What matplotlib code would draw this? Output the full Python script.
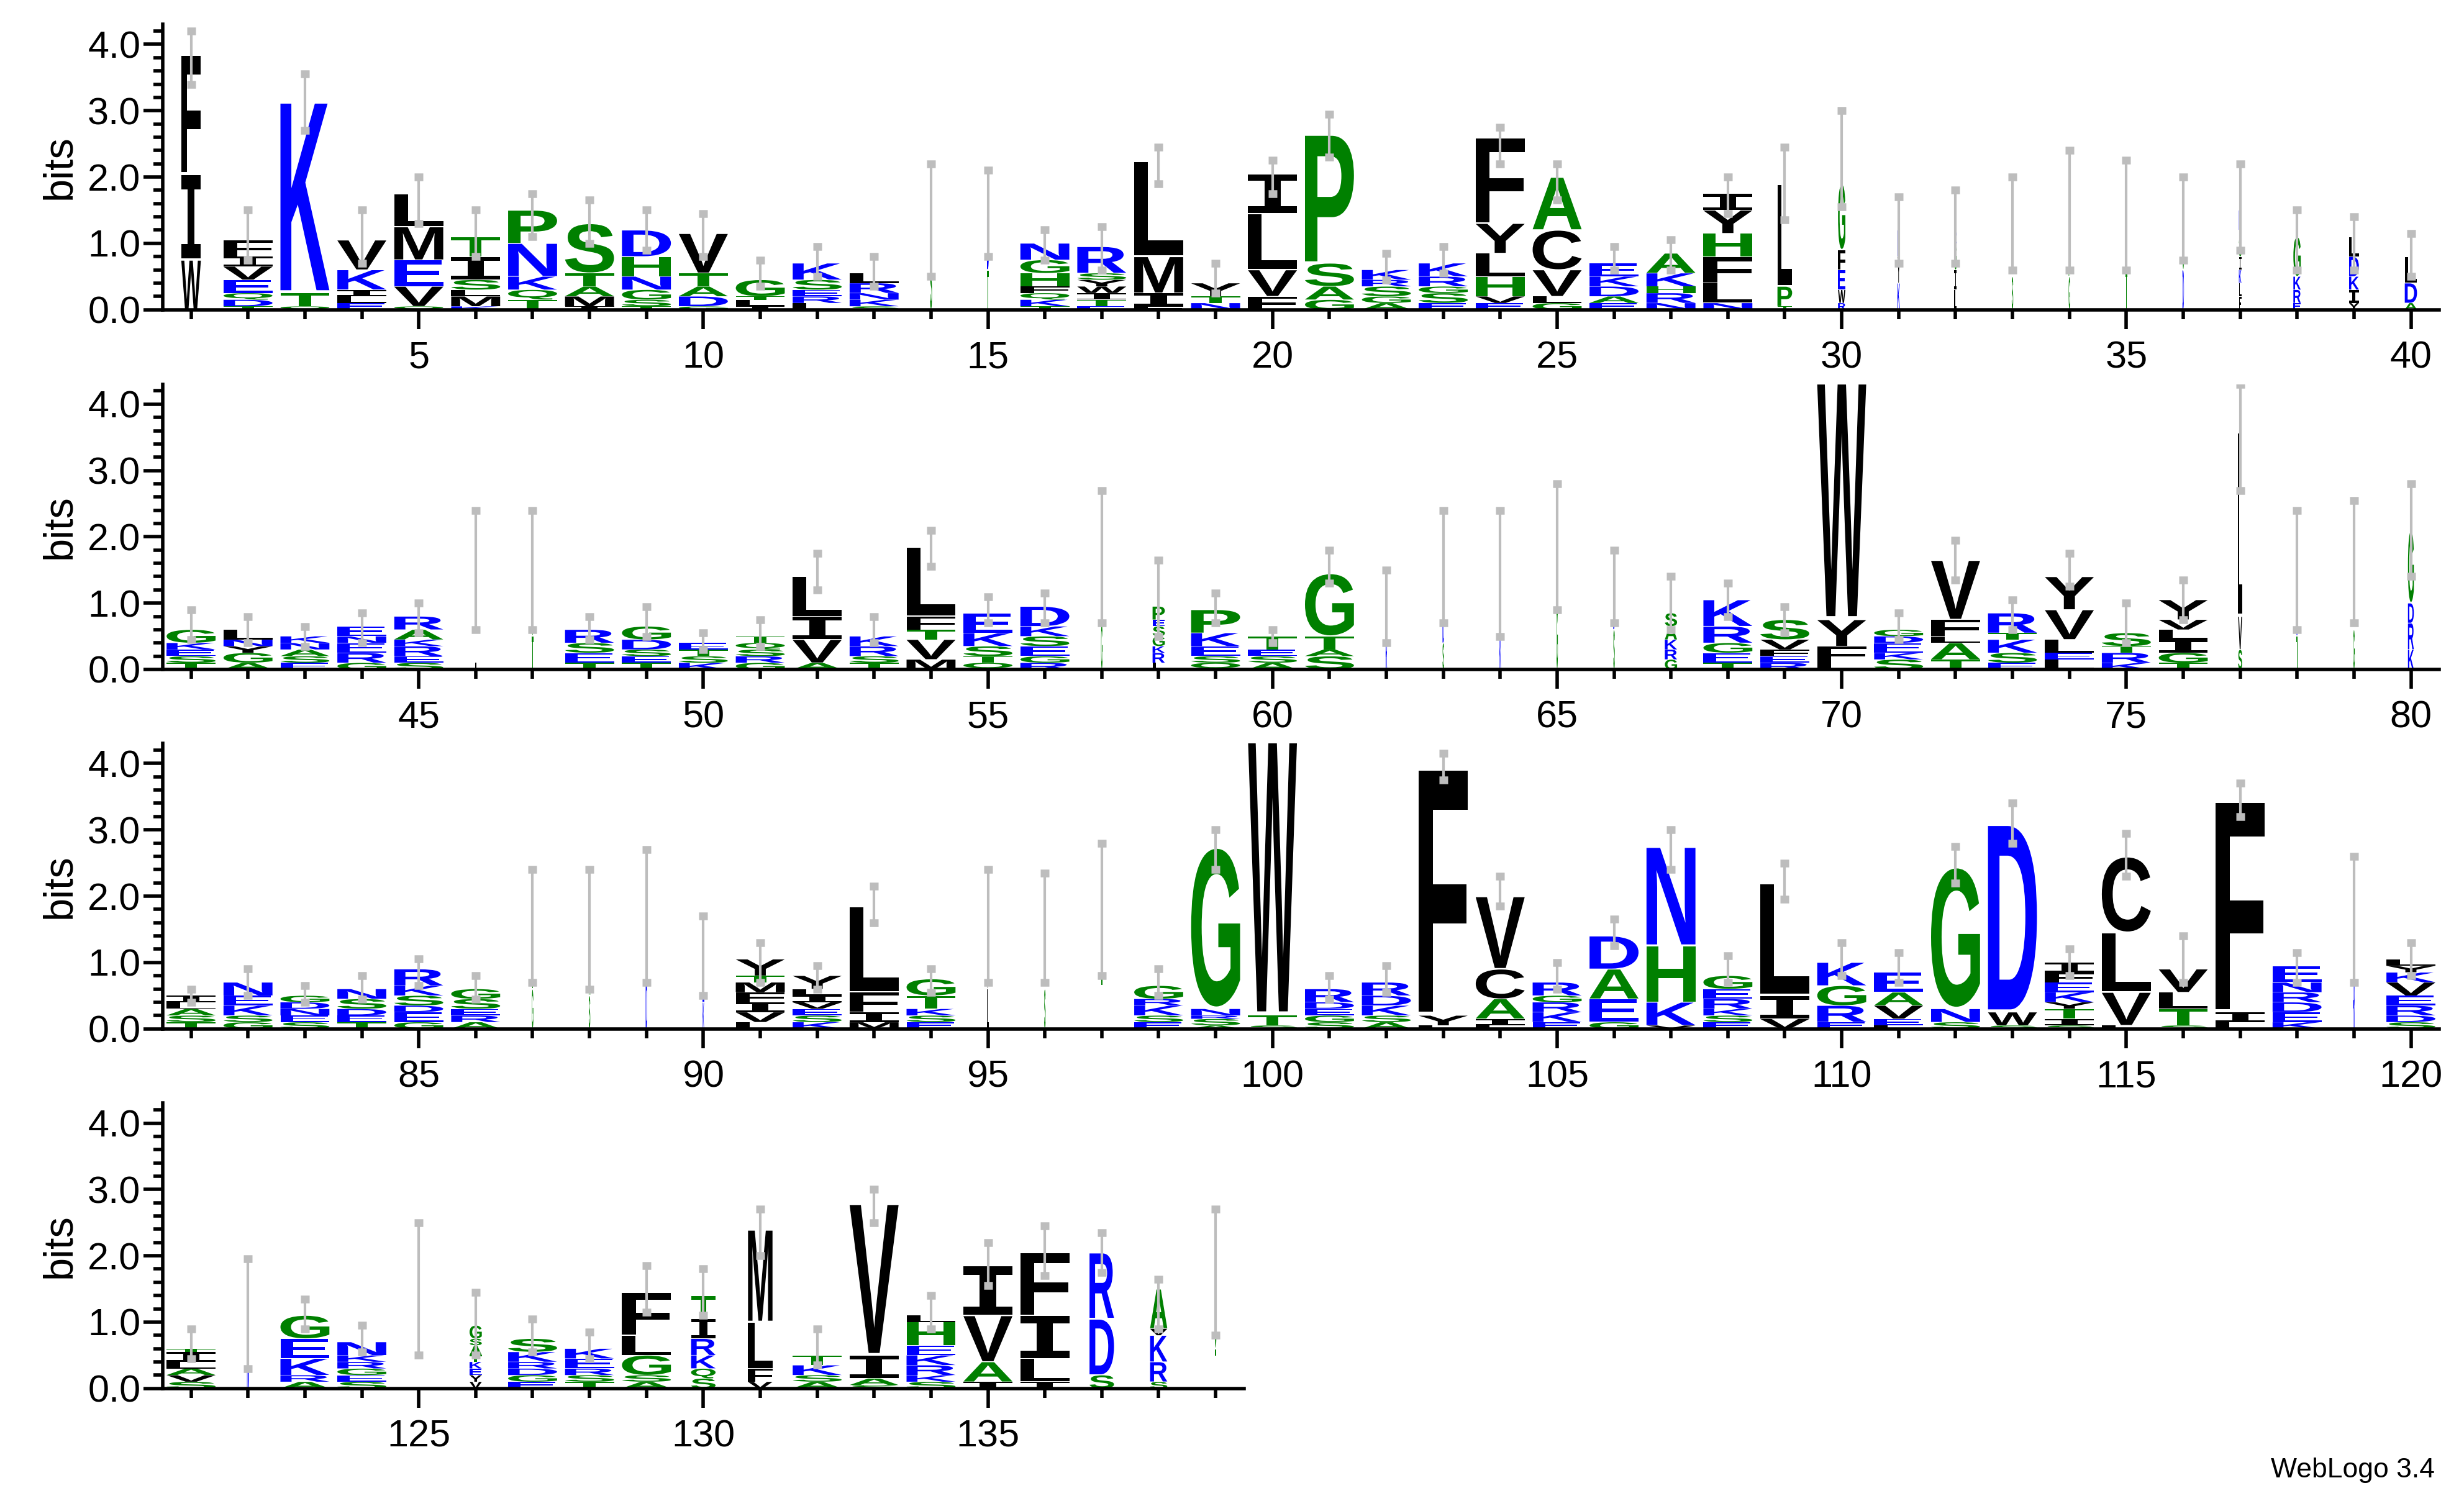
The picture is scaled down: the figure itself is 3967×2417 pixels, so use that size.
import matplotlib
matplotlib.use("Agg")
import matplotlib.pyplot as plt
from matplotlib.textpath import TextPath
from matplotlib.patches import PathPatch
from matplotlib.font_manager import FontProperties
from matplotlib.transforms import Affine2D
from matplotlib.ticker import MultipleLocator

plt.rcParams['font.family'] = ['Liberation Sans', 'DejaVu Sans']

# ---- data: stacks bottom->top "Letter:height" (bits) ----
stacks = [
 "W:0.75 I:1.3 F:1.8", "T:0.05 D:0.1 Q:0.1 E:0.2 V:0.2 I:0.15 F:0.25", "Q:0.05 T:0.2 K:2.9",
 "E:0.1 L:0.1 I:0.1 K:0.3 V:0.45", "Q:0.05 V:0.3 E:0.4 M:0.5 L:0.5", "K:0.05 M:0.15 L:0.1 S:0.15 I:0.35 T:0.3",
 "T:0.15 Q:0.15 K:0.2 N:0.5 P:0.5", "I:0.05 M:0.15 A:0.15 T:0.2 S:0.75", "T:0.05 S:0.1 G:0.15 N:0.2 H:0.3 D:0.4",
 "G:0.05 D:0.15 A:0.15 T:0.2 V:0.6", "I:0.05 L:0.1 T:0.05 G:0.25", "L:0.1 R:0.1 E:0.1 S:0.15 K:0.25",
 "S:0.05 K:0.1 N:0.1 R:0.15 L:0.15", "S:0.8 N:0.5", "T:0.6 D:0.8",
 "T:0.05 K:0.1 Q:0.1 F:0.1 H:0.2 G:0.2 N:0.25", "E:0.05 T:0.1 I:0.1 W:0.1 Y:0.1 S:0.1 R:0.4", "F:0.05 I:0.2 M:0.55 L:1.45",
 "N:0.1 T:0.1 Y:0.2", "F:0.2 V:0.4 L:0.85 I:0.6", "G:0.15 A:0.2 S:0.35 P:1.95",
 "A:0.1 G:0.1 S:0.15 R:0.1 K:0.15", "E:0.1 S:0.15 G:0.1 R:0.15 K:0.2", "E:0.1 V:0.1 H:0.3 L:0.35 Y:0.45 F:1.3",
 "G:0.1 L:0.1 V:0.4 C:0.6 A:0.8", "E:0.1 A:0.1 D:0.15 K:0.15 E:0.2", "N:0.1 R:0.15 H:0.1 K:0.2 A:0.3",
 "N:0.1 L:0.3 F:0.4 H:0.35 Y:0.35 I:0.25", "T:0.05 P:0.3 L:1.55", "R:0.1 W:0.2 E:0.3 F:0.3 G:1.0",
 "K:0.4 Y:0.4 R:0.4", "L:0.3 I:0.3 G:0.4 R:0.2", "S:0.5 T:0.6", "G:0.5 A:0.8", "T:0.6 S:0.8", "D:0.6 G:0.8",
 "F:0.2 L:0.2 K:0.2 I:0.2 G:0.2 A:0.2 R:0.3", "E:0.1 R:0.2 K:0.2 G:0.6", "Y:0.1 I:0.2 K:0.2 D:0.3 L:0.3", "A:0.1 D:0.3 L:0.4",
 # row 2
 "T:0.1 S:0.1 E:0.1 K:0.1 G:0.2", "A:0.1 G:0.15 Y:0.1 N:0.1 L:0.15", "E:0.1 S:0.1 A:0.1 N:0.1 K:0.1",
 "G:0.1 R:0.15 E:0.15 N:0.1 E:0.15", "S:0.1 E:0.1 R:0.15 K:0.1 A:0.15 R:0.2", "L:0.6 G:0.9", "T:0.5 G:1.0",
 "T:0.1 E:0.15 S:0.15 R:0.2", "T:0.1 E:0.1 S:0.1 D:0.15 G:0.2", "K:0.1 S:0.1 T:0.1 E:0.1",
 "G:0.1 R:0.1 S:0.1 Q:0.1 T:0.1", "A:0.1 V:0.35 I:0.35 L:0.6", "T:0.1 S:0.1 R:0.15 K:0.15",
 "M:0.15 V:0.3 T:0.15 F:0.2 L:1.05", "Q:0.1 T:0.1 S:0.15 K:0.2 E:0.3", "R:0.1 G:0.1 E:0.15 S:0.15 K:0.15 D:0.3",
 "G:0.7 T:0.8", "L:0.1 R:0.15 K:0.1 G:0.15 S:0.15 E:0.1 P:0.2", "Q:0.1 S:0.1 E:0.15 K:0.2 P:0.35",
 "A:0.1 S:0.1 E:0.1 T:0.2", "S:0.2 A:0.1 T:0.2 G:0.95", "R:0.5 G:0.4", "S:0.4 D:0.4", "K:0.5 T:0.5",
 "G:1.0 T:0.85", "S:0.6 D:0.5", "G:0.15 R:0.15 K:0.15 A:0.2 S:0.2", "T:0.1 E:0.15 G:0.15 R:0.25 K:0.4",
 "R:0.1 E:0.1 F:0.1 V:0.15 S:0.3", "L:0.1 F:0.25 Y:0.4 W:3.6", "S:0.15 K:0.1 E:0.15 D:0.1 G:0.1",
 "T:0.15 A:0.25 L:0.1 F:0.25 V:0.9", "E:0.1 S:0.15 K:0.2 T:0.1 R:0.3", "L:0.15 E:0.1 L:0.2 V:0.45 Y:0.5",
 "K:0.1 R:0.15 T:0.1 S:0.2", "T:0.1 G:0.15 I:0.2 L:0.15 V:0.15 Y:0.3", "S:0.3 V:0.5 L:2.8", "T:0.5 N:1.0",
 "G:0.6 T:1.2", "K:0.3 R:0.4 D:0.3 G:1.1",
 # row 3
 "T:0.1 S:0.1 A:0.1 L:0.1 I:0.1", "G:0.1 S:0.1 K:0.15 E:0.15 N:0.2", "S:0.1 E:0.1 N:0.1 D:0.1 G:0.1",
 "T:0.1 E:0.1 D:0.1 S:0.15 N:0.15", "G:0.1 E:0.15 D:0.1 S:0.15 K:0.15 R:0.25", "A:0.1 R:0.1 E:0.1 S:0.15 G:0.15",
 "G:0.6 T:0.9", "S:0.5 A:0.9", "D:0.7 N:1.0", "K:0.4 E:0.4 R:0.3",
 "L:0.1 V:0.15 I:0.15 F:0.15 M:0.15 T:0.1 Y:0.25", "K:0.1 S:0.1 E:0.1 V:0.1 I:0.1 L:0.1 Y:0.2",
 "M:0.1 I:0.15 F:0.3 L:1.3", "E:0.1 S:0.1 K:0.1 T:0.2 G:0.25", "L:0.6 V:0.9", "S:0.6 T:0.8", "T:0.8 G:0.9",
 "E:0.1 S:0.1 K:0.15 R:0.1 G:0.2", "A:0.05 S:0.1 R:0.05 N:0.1 G:2.45", "S:0.05 T:0.15 W:4.2",
 "S:0.1 G:0.1 E:0.1 D:0.1 R:0.2", "A:0.1 S:0.1 K:0.15 D:0.15 R:0.2", "L:0.05 Y:0.15 F:3.75",
 "L:0.05 I:0.1 A:0.3 C:0.45 V:1.1", "E:0.1 K:0.15 R:0.15 G:0.1 R:0.2", "G:0.1 E:0.35 A:0.45 D:0.5",
 "V:0.05 K:0.35 H:0.85 N:1.5", "E:0.1 S:0.1 K:0.1 R:0.15 E:0.15 G:0.2", "V:0.15 I:0.35 L:1.7",
 "E:0.1 R:0.25 G:0.3 K:0.35", "L:0.05 E:0.1 V:0.2 A:0.2 E:0.3", "S:0.1 N:0.2 G:2.15", "S:0.05 W:0.2 D:2.85",
 "S:0.05 I:0.1 T:0.15 Y:0.1 K:0.15 E:0.15 F:0.15 I:0.15", "L:0.05 V:0.5 L:0.9 C:1.15", "S:0.05 T:0.25 L:0.25 V:0.35",
 "L:0.1 I:0.15 F:3.2", "K:0.1 E:0.15 D:0.15 R:0.15 N:0.15 E:0.25", "R:0.8 Y:0.9",
 "S:0.1 D:0.1 R:0.15 E:0.15 V:0.2 K:0.15 Y:0.1 L:0.1",
 # row 4
 "S:0.1 V:0.1 A:0.1 L:0.1 I:0.15 T:0.05", "N:0.5 K:0.5", "A:0.1 R:0.1 K:0.25 E:0.3 G:0.35",
 "S:0.1 E:0.1 G:0.1 R:0.1 K:0.1 N:0.2", "T:0.7 S:0.8", "V:0.1 Y:0.1 E:0.1 K:0.1 T:0.1 A:0.15 S:0.1 G:0.2",
 "E:0.1 G:0.1 D:0.1 R:0.1 K:0.15 S:0.2", "T:0.1 S:0.1 R:0.1 E:0.15 K:0.15", "A:0.1 S:0.1 G:0.3 L:0.3 F:0.65",
 "S:0.15 Q:0.15 K:0.2 R:0.25 I:0.3 T:0.35", "V:0.1 F:0.2 L:0.7 M:1.4", "A:0.1 S:0.1 K:0.15 T:0.15",
 "S:0.05 A:0.1 I:0.35 V:2.3", "S:0.1 K:0.1 R:0.15 K:0.15 E:0.15 H:0.35 L:0.1", "I:0.1 A:0.3 V:0.7 I:0.75",
 "I:0.1 L:0.35 I:0.65 F:0.95", "S:0.2 D:0.85 R:1.0", "S:0.1 R:0.3 K:0.4 V:0.1 A:0.6", "T:0.6 G:0.9",
]

# stack width (fraction of full occupancy)
widths = [0.4,1,1,1,1,1,1,1,1,1, 1,1,1,0.04,0.04,1,1,1,1,1, 1,1,1,1,1,1,1,1,0.3,0.15, 0.05,0.05,0.03,0.03,0.03,0.03,0.05,0.15,0.2,0.25,
          1,1,1,1,1,0.03,0.03,1,1,1, 1,1,1,1,1,1,0.03,0.25,1,1, 1,0.03,0.03,0.03,0.03,0.03,0.25,1,1,1, 1,1,1,1,1,1,0.08,0.03,0.03,0.12,
          1,1,1,1,1,1,0.03,0.03,0.03,0.03, 1,1,1,1,0.03,0.03,0.03,1,1,1, 1,1,1,1,1,1,1,1,1,1, 1,1,1,1,1,1,1,1,0.03,1,
          1,0.04,1,1,0.03,0.25,1,1,1,0.5, 0.5,1,1,1,1,1,0.5,0.35,0.03]

err_lo = [3.4,0.75,2.7,0.7,1.3,0.8,1.1,1.0,0.9,0.8, 0.35,0.5,0.35,0.5,0.8,0.75,0.6,1.9,0.25,1.75, 2.3,0.45,0.55,2.2,1.65,0.6,0.6,1.45,1.35,1.55,
          0.7,0.7,0.6,0.6,0.6,0.75,0.9,0.6,0.6,0.5,
          0.45,0.4,0.35,0.4,0.55,0.6,0.6,0.45,0.5,0.3, 0.35,1.2,0.4,1.55,0.7,0.7,0.7,0.5,0.7,0.4, 1.3,0.4,0.7,0.5,0.9,0.7,0.6,0.8,0.55,4.4,
          0.45,1.35,0.6,1.25,0.4,0.75,2.7,0.6,0.7,1.4,
          0.4,0.5,0.4,0.45,0.65,0.45,0.7,0.6,0.7,0.5, 0.7,0.6,1.6,0.55,0.7,0.7,0.8,0.5,2.4,4.4, 0.45,0.55,3.75,1.85,0.6,1.25,2.4,0.7,1.95,0.8,
          0.7,2.2,2.8,0.8,2.3,0.7,3.2,0.7,0.7,0.8,
          0.45,0.3,0.9,0.55,0.5,0.5,0.55,0.45,1.15,1.1, 2.0,0.35,2.5,0.9,1.55,1.7,1.75,0.9,0.8]
err_hi = [4.2,1.5,3.55,1.5,2.0,1.5,1.75,1.65,1.5,1.45, 0.75,0.95,0.8,2.2,2.1,1.2,1.25,2.45,0.7,2.25, 2.95,0.85,0.95,2.75,2.2,0.95,1.05,2.0,2.45,3.0,
          1.7,1.8,2.0,2.4,2.25,2.0,2.2,1.5,1.4,1.15,
          0.9,0.8,0.65,0.85,1.0,2.4,2.4,0.8,0.95,0.55, 0.75,1.75,0.8,2.1,1.1,1.15,2.7,1.65,1.15,0.6, 1.8,1.5,2.4,2.4,2.8,1.8,1.4,1.3,0.95,4.5,
          0.85,1.95,1.05,1.75,1.0,1.35,4.3,2.4,2.55,2.8,
          0.6,0.9,0.65,0.8,1.05,0.8,2.4,2.4,2.7,1.7, 1.3,0.95,2.15,0.9,2.4,2.35,2.8,0.9,3.0,4.5, 0.8,0.95,4.15,2.3,1.0,1.65,3.0,1.1,2.5,1.3,
          1.15,2.75,3.4,1.2,2.95,1.4,3.7,1.15,2.6,1.3,
          0.9,1.95,1.35,0.95,2.5,1.45,1.05,0.85,1.85,1.8, 2.7,0.9,3.0,1.4,2.2,2.45,2.35,1.65,2.7]

row_ranges = [(1, 40), (41, 80), (81, 120), (121, 139)]

BLACK, GREEN, BLUE = "#000000", "#008000", "#0000ff"
colors = {}
for c in "FILMVWYC":
    colors[c] = BLACK
for c in "GSTPAHQ":
    colors[c] = GREEN
for c in "DEKRN":
    colors[c] = BLUE

fp_main = FontProperties(family="Liberation Sans", weight="bold")
fp_serif = FontProperties(family="DejaVu Sans Mono", weight="bold")
path_cache = {}


def letter_path(ch):
    if ch not in path_cache:
        tp = TextPath((0, 0), ch, size=1, prop=fp_serif if ch == "I" else fp_main)
        path_cache[ch] = tp
    return path_cache[ch]


def draw_letter(ax, ch, x, y0, w, h):
    tp = letter_path(ch)
    bb = tp.get_extents()
    hh = h * 0.97
    tr = (Affine2D().translate(-bb.x0, -bb.y0)
          .scale(w / bb.width, hh / bb.height).translate(x - w / 2, y0 + (h - hh) / 2))
    ax.add_patch(PathPatch(tr.transform_path(tp), fc=colors.get(ch, BLACK), ec="none", lw=0))


fig = plt.figure(figsize=(39.67, 24.17), dpi=100)
left, fullw, axh = 0.066, 0.924, 0.19
bottoms = [0.7937, 0.554, 0.3146, 0.075]

for (start, end), b in zip(row_ranges, bottoms):
    n = end - start + 1
    ax = fig.add_axes([left, b, fullw * n / 40, axh])
    for pos in range(start, end + 1):
        i = pos - 1
        w = 0.86 * widths[i]
        y = 0.0
        for item in stacks[i].split():
            ch, h = item.split(":")
            h = float(h)
            draw_letter(ax, ch, pos, y, w, h)
            y += h
    xs = list(range(start, end + 1))
    mids = [(err_lo[p - 1] + err_hi[p - 1]) / 2 for p in xs]
    half = [(err_hi[p - 1] - err_lo[p - 1]) / 2 for p in xs]
    ax.errorbar(xs, mids, yerr=half, fmt="none", ecolor="#bdbdbd", elinewidth=3,
                capsize=5, capthick=9, zorder=5)
    ax.set_xlim(start - 0.5, end + 0.5)
    ax.set_ylim(0, 4.3)
    for s in ["top", "right"]:
        ax.spines[s].set_visible(False)
    for s in ["left", "bottom"]:
        ax.spines[s].set_linewidth(4)
    ax.set_xticks([p for p in xs if p % 5 == 0])
    ax.xaxis.set_minor_locator(MultipleLocator(1))
    ax.set_yticks([0, 1, 2, 3, 4])
    ax.set_yticklabels(["0.0", "1.0", "2.0", "3.0", "4.0"])
    ax.yaxis.set_minor_locator(MultipleLocator(0.2))
    ax.tick_params(axis="both", which="major", labelsize=44, width=4, length=22)
    ax.tick_params(axis="both", which="minor", width=4, length=11)
    ax.tick_params(axis="x", which="major", pad=14)
    ax.set_ylabel("bits", fontsize=48, labelpad=10)

fig.text(0.988, 0.012, "WebLogo 3.4", ha="right", va="bottom", fontsize=32)
fig.savefig("out.png", dpi=100)
